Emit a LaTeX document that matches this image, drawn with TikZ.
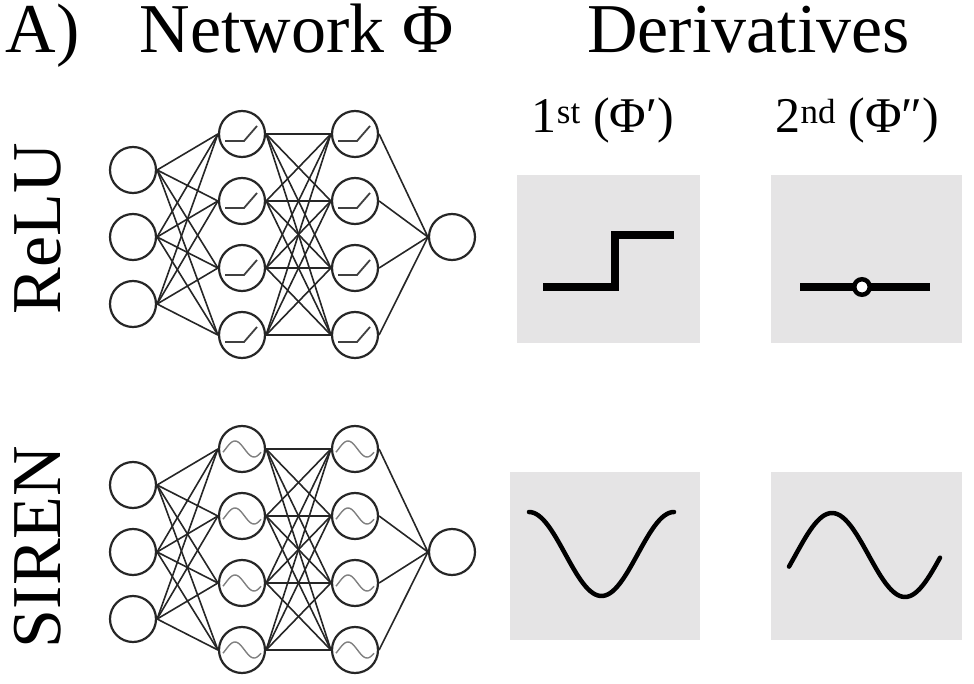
\documentclass[tikz,border=0pt]{standalone}
\usepackage{fontspec}
\setmainfont{Liberation Serif}
\usepackage{xcolor}
\usepackage{tikz}
\usetikzlibrary{calc}
\definecolor{panelgray}{HTML}{E5E4E5}

\begin{document}
\begin{tikzpicture}[x=1pt,y=-1pt,neuron/.style={draw=black!85,circle,line width=2.2pt,minimum size=46pt,inner sep=0pt},edge/.style={draw=black!85,line width=1.6pt},reluglyph/.style={draw=black!75,line width=1.8pt},sineglyph/.style={draw=black!50,line width=1.4pt},panel/.style={fill=panelgray,inner sep=0pt,minimum height=168pt},curve/.style={line width=4.5pt,line cap=round},big/.style={font=\fontsize{70}{80}\selectfont,inner sep=0pt},mid/.style={font=\fontsize{50}{60}\selectfont,inner sep=0pt},hole/.style={draw,circle,fill=white,line width=4.5pt,minimum size=15.5pt,inner sep=0pt}]
\useasboundingbox (0,0) rectangle (974,684);
% headings
\node[big,anchor=base] (tag) at (42.5,53) {A)};
\node[big,anchor=base] (nettitle) at (296.5,53) {Network Φ};
\node[big,anchor=base] (dertitle) at (748.5,53) {Derivatives};
\node[mid,anchor=base] (first) at (603,133) {1\textsuperscript{st} (Φ′)};
\node[mid,anchor=base] (second) at (857.5,133) {2\textsuperscript{nd} (Φ″)};
\node[big,anchor=base,rotate=90] (relulabel) at (60,229) {ReLU};
\node[big,anchor=base,rotate=90] (sirenlabel) at (60,547) {SIREN};
% the two networks
\foreach \net/\yo in {relu/0,siren/315}{
  \foreach \i/\y in {1/170,2/237,3/304} \node[neuron] (\net-in-\i) at (133,\y+\yo) {};
  \foreach \j/\y in {1/134,2/201,3/268,4/335}{
    \node[neuron] (\net-ha-\j) at (242,\y+\yo) {};
    \node[neuron] (\net-hb-\j) at (355,\y+\yo) {};
  }
  \node[neuron] (\net-out) at (452,237+\yo) {};
  \foreach \i in {1,2,3} \foreach \j in {1,...,4} \draw[edge] (\net-in-\i.east) -- (\net-ha-\j.west);
  \foreach \i in {1,...,4} \foreach \j in {1,...,4} \draw[edge] (\net-ha-\i.east) -- (\net-hb-\j.west);
  \foreach \j in {1,...,4} \draw[edge] (\net-hb-\j.east) -- (\net-out.west);
}
% activation glyphs
\foreach \j in {1,...,4} \foreach \lay in {ha,hb}{
  \draw[reluglyph] ([shift={(-17,7)}]relu-\lay-\j.center) -- ++(19,0) -- ++(13,-15);
  \begin{scope}[shift={(siren-\lay-\j.center)}]
    \draw[sineglyph] plot[domain=-19:19,samples=30,smooth] (\x,{-8*cos(9.4737*(\x+7))});
  \end{scope}
}
% derivative panels
\node[panel,minimum width=183pt] (relu-p1) at (608.5,259) {};
\node[panel,minimum width=191pt] (relu-p2) at (866.5,259) {};
\node[panel,minimum width=190pt] (siren-p1) at (605,556) {};
\node[panel,minimum width=191pt] (siren-p2) at (866.5,556) {};
\draw[line width=8pt] (543,287) -- (615,287) -- (615,235) -- (674,235);
\draw[line width=8pt] (800,287) -- (930,287);
\node[hole] (relu-gap) at (862,287) {};
\draw[curve] plot[domain=529:674,samples=60,smooth] (\x,{554-42*cos(2.4828*(\x-529))});
\draw[curve] plot[domain=789:940,samples=60,smooth] (\x,{555-42*sin(2.4658*(\x-795.5))});
\end{tikzpicture}
\end{document}
